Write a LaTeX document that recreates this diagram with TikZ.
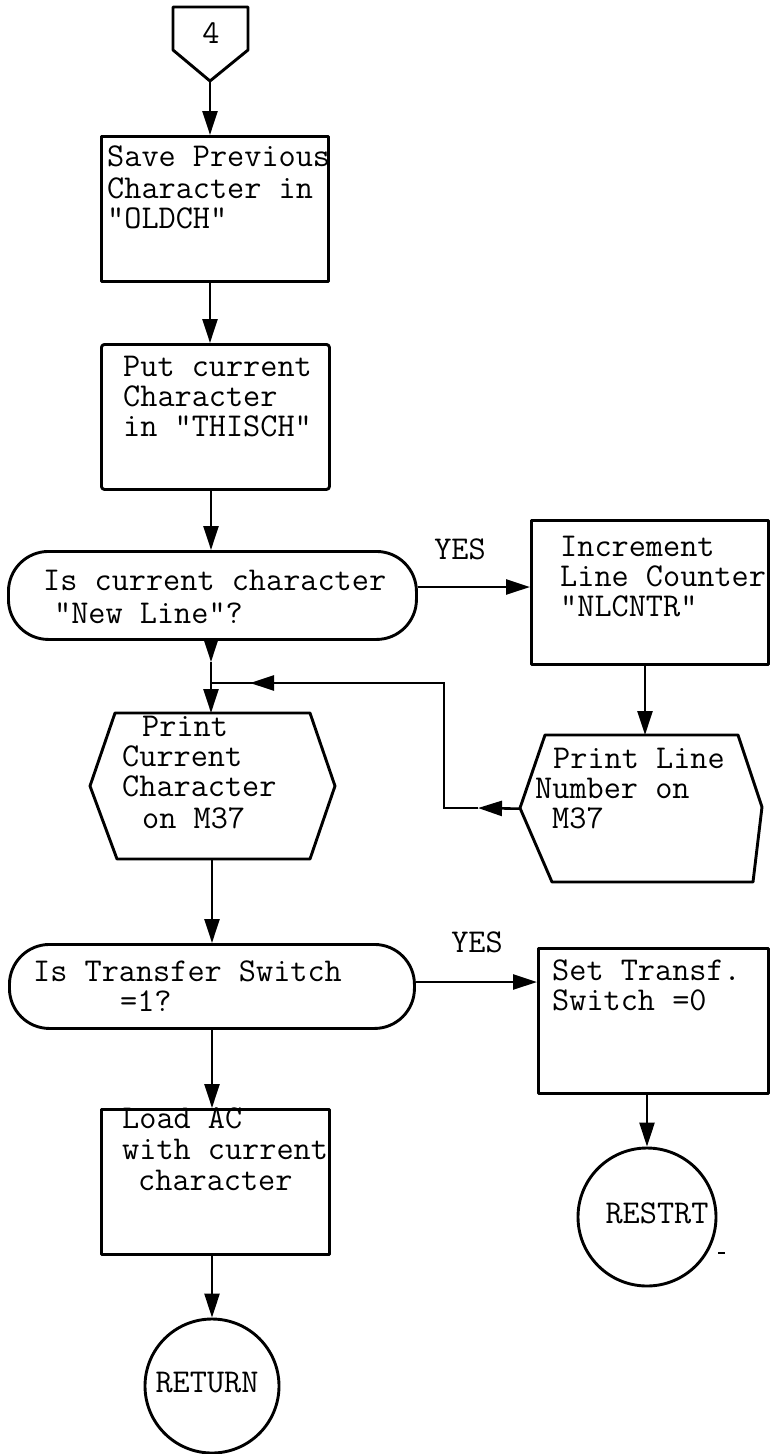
\documentclass[tikz,border=0pt]{standalone}
\usepackage{fontspec}
\usetikzlibrary{arrows.meta}
\begin{document}
\begin{tikzpicture}[x=1pt,y=-1pt,
  shp/.style={draw, line width=2.9pt, line join=round},
  box/.style={shp, rectangle, inner sep=0, anchor=north west},
  term/.style={shp, rectangle, rounded corners=40pt, inner sep=0, anchor=north west},
  frame/.style={rectangle, inner sep=0, anchor=north west},
  con/.style={line width=2.6pt},
  arr/.style={con, -{Triangle[length=24pt,width=15pt]}},
  txt/.style={font=\fontsize{33.3}{35}\selectfont\ttfamily, inner sep=0, anchor=base west, text height=21pt, text depth=6pt},
  ctxt/.style={font=\fontsize{33.3}{35}\selectfont\ttfamily, inner sep=0, anchor=center},
]
\useasboundingbox (0,0) rectangle (774,1454);

% off-page connector
\draw[shp] (173,7) -- (248,7) -- (248,50) -- (210,81) -- (173,50) -- cycle;
\coordinate (c4tip) at (210,81);
\node[ctxt] (c4) at (211,33) {4};

% boxes
\node[box, minimum width=227pt, minimum height=145pt] (b1) at (100,135) {};
\node[box, rounded corners=3pt, minimum width=228pt, minimum height=145pt] (b2) at (100,343) {};
\node[term, minimum width=408pt, minimum height=88pt] (t1) at (7,550) {};
\node[box, minimum width=237pt, minimum height=144pt] (b3) at (530,519) {};
\node[frame, minimum width=245pt, minimum height=146pt] (h1) at (90,713) {};
\draw[shp] (115,713) -- (310,713) -- (335,786) -- (310,859) -- (117,859) -- (90,786) -- cycle;
\node[frame, minimum width=242pt, minimum height=147pt] (h2) at (520,735) {};
\draw[shp] (545,735) -- (738,735) -- (762,807) -- (753,882) -- (552,882) -- (520,808) -- cycle;
\node[term, minimum width=405pt, minimum height=84pt] (t2) at (8,943) {};
\node[box, minimum width=230pt, minimum height=145pt] (b4) at (537,947) {};
\node[box, minimum width=228pt, minimum height=145pt] (b5) at (100,1108) {};
\node[shp, circle, minimum size=138pt, inner sep=0] (rst) at (647,1217) {};
\node[shp, circle, minimum size=134pt, inner sep=0] (ret) at (212,1386) {};
\draw[line width=1.5pt] (718,1253) -- (725,1253);

% texts
\node[txt] (b1a) at (107,166) {Save Previous};
\node[txt] (b1b) at (107,198) {Character in};
\node[txt] (b1c) at (107,228) {"OLDCH"};
\node[txt] (b2a) at (123,376) {Put current};
\node[txt] (b2b) at (123,406) {Character};
\node[txt] (b2c) at (123,436) {in "THISCH"};
\node[txt] (t1a) at (43,590) {Is current character};
\node[txt] (t1b) at (54,623) {"New Line"?};
\node[txt] (b3a) at (560,556) {Increment};
\node[txt] (b3b) at (560,586) {Line Counter};
\node[txt] (b3c) at (560,616) {"NLCNTR"};
\node[txt] (h1a) at (142,736) {Print};
\node[txt] (h1b) at (122,766) {Current};
\node[txt] (h1c) at (122,796) {Character};
\node[txt] (h1d) at (142,828) {on M37};
\node[txt] (h2a) at (553,768) {Print Line};
\node[txt] (h2b) at (535,798) {Number on};
\node[txt] (h2c) at (552,828) {M37};
\node[txt] (t2a) at (33,981) {Is Transfer Switch};
\node[txt] (t2b) at (120,1011) {=1?};
\node[txt] (b4a) at (552,980) {Set Transf.};
\node[txt] (b4b) at (552,1010) {Switch =0};
\node[txt] (b5a) at (122,1128) {Load AC};
\node[txt] (b5b) at (122,1159) {with current};
\node[txt] (b5c) at (138,1190) {character};
\node[ctxt] (rsttxt) at (657,1213) {RESTRT};
\node[ctxt] (rettxt) at (207,1383) {RETURN};
\node[ctxt] (yes1) at (460,549) {YES};
\node[ctxt] (yes2) at (477,942) {YES};

% connectors
\coordinate (j) at (211,683);
\coordinate (ja) at (211,662);
\coordinate (fa) at (478,808);
\coordinate (fb) at (444,808);
\coordinate (fc) at (444,683);
\coordinate (fd) at (250,683);

\draw[arr] (c4tip) -- (c4tip |- b1.north);
\draw[arr] (210,280) -- (210,343);
\draw[arr] (211,488) -- (211,550);
\draw[arr] (t1.east |- 0,587) -- (b3.west |- 0,587);
\draw[arr] (645,663) -- (645,735);
\draw[arr] (h2.west) -- (fa);
\draw[con] (fa) -- (fb) -- (fc) -- (fd);
\draw[arr] (fc) -- (fd);
\draw[con] (fd) -- (j);
\draw[arr] (211,638) -- (ja);
\draw[con] (ja) -- (j);
\draw[arr] (j) -- (j |- h1.north);
\draw[arr] (212,859) -- (212,943);
\draw[arr] (t2.east |- 0,982) -- (b4.west |- 0,982);
\draw[arr] (212,1027) -- (212,1108);
\draw[arr] (rst.north |- 0,1092) -- (rst.north);
\draw[arr] (ret.north |- 0,1253) -- (ret.north);
\end{tikzpicture}
\end{document}
